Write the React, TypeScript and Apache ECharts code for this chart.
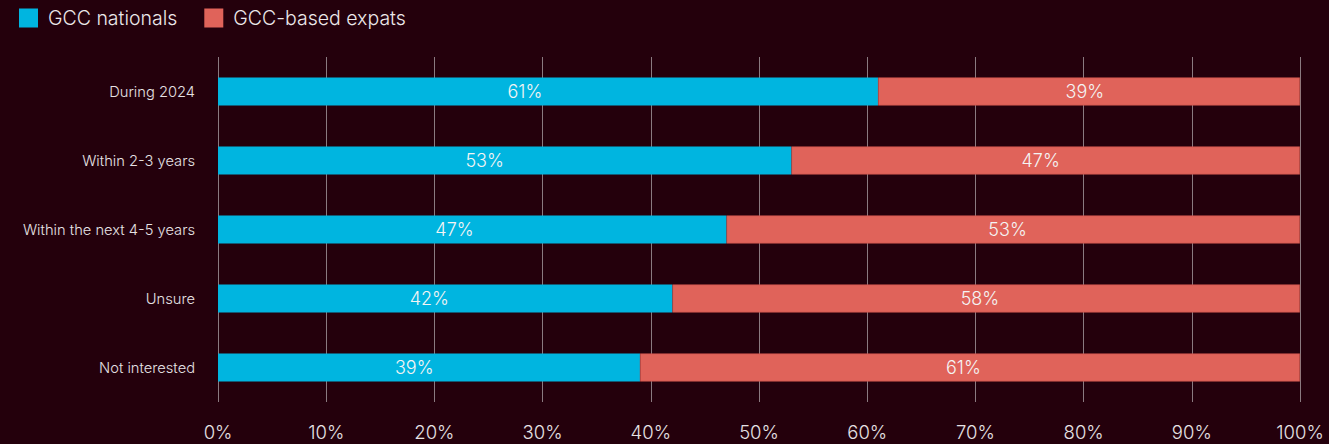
import React, { useEffect, useRef } from "react";
import * as echarts from "echarts";

const categories = ["During 2024", "Within 2-3 years", "Within the next 4-5 years", "Unsure", "Not interested"];
const nationals = [61, 53, 47, 42, 39];
const expats = [39, 47, 53, 58, 61];
const seriesNames = ["GCC nationals", "GCC-based expats"];

export default function App() {
  const ref = useRef<HTMLDivElement>(null);
  useEffect(() => {
    if (!ref.current) return;
    const chart = echarts.init(ref.current, null, { renderer: "svg" });
    const font = "Inter, 'Liberation Sans', sans-serif";
    const labelBase = {
      show: true,
      align: "center",
      verticalAlign: "middle",
      formatter: "{c}%",
      color: "#f4f4f4",
      fontSize: 18,
      fontWeight: 300,
      fontFamily: font,
    };
    chart.setOption({
      animation: false,
      backgroundColor: "#24000c",
      textStyle: { fontFamily: font },
      legend: {
        left: 14,
        top: 3,
        itemWidth: 19,
        itemHeight: 19,
        itemGap: 27,
        icon: "rect",
        itemStyle: { borderWidth: 0 },
        textStyle: { color: "#ece8ea", fontSize: 19.5, fontWeight: 300, fontFamily: font, padding: [0, 0, 0, 5] },
        data: seriesNames,
      },
      grid: { left: 218, right: 29, top: 57, bottom: 42 },
      xAxis: {
        type: "value",
        min: 0,
        max: 100,
        interval: 10,
        axisLine: { show: false },
        axisTick: { show: false },
        axisLabel: { color: "#e6e2e4", fontSize: 18.5, fontWeight: 300, margin: 20, formatter: "{value}%", fontFamily: font },
        splitLine: { show: true, lineStyle: { color: "#8a7a80", width: 1 } },
      },
      yAxis: {
        type: "category",
        inverse: true,
        data: categories,
        axisLine: { show: false },
        axisTick: { show: false },
        axisLabel: { color: "#e6e2e4", fontSize: 14.7, fontWeight: 300, margin: 23, fontFamily: font },
      },
      series: [
        {
          name: seriesNames[0],
          type: "bar",
          stack: "total",
          barWidth: 28,
          data: nationals,
          itemStyle: { color: "#00b5e0" },
          label: { ...labelBase, position: ["46.5%", "50%"] },
        },
        {
          name: seriesNames[1],
          type: "bar",
          stack: "total",
          barWidth: 28,
          data: expats,
          itemStyle: { color: "#e0635a", borderColor: "#c9514a", borderWidth: 0.6 },
          label: { ...labelBase, position: ["49%", "50%"] },
        },
      ],
    });
    return () => chart.dispose();
  }, []);
  return <div ref={ref} style={{ width: 1329, height: 444, position: "fixed", left: 0, top: 0 }} />;
}
